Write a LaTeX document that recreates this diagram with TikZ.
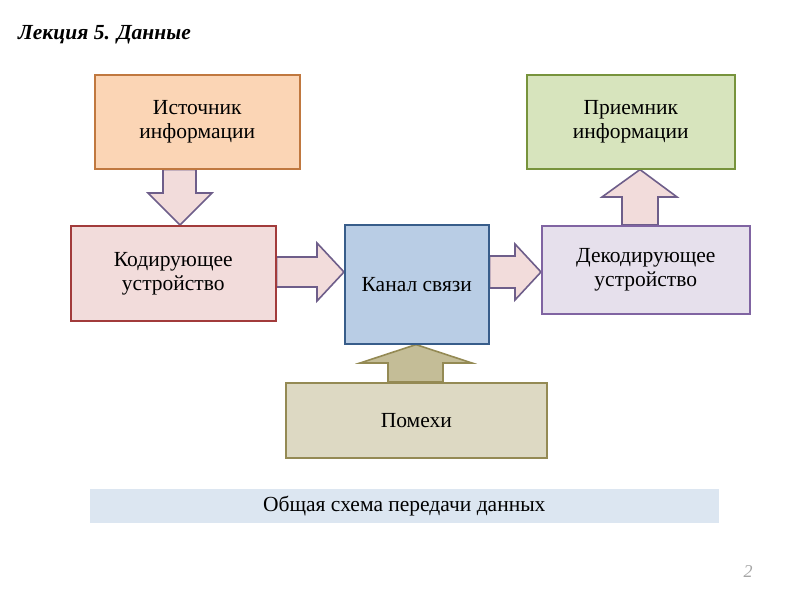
\documentclass[tikz,border=0pt]{standalone}
\usepackage{fontspec}
\setmainfont{Liberation Serif}
\usetikzlibrary{calc}
\pgfdeclarelayer{bg}
\pgfsetlayers{bg,main}
\definecolor{srcfill}{HTML}{FBD5B5}\definecolor{srcline}{HTML}{C0783F}
\definecolor{kodfill}{HTML}{F2DCDB}\definecolor{kodline}{HTML}{A23B3B}
\definecolor{kanfill}{HTML}{B9CDE5}\definecolor{kanline}{HTML}{385D8A}
\definecolor{dekfill}{HTML}{E6E0EC}\definecolor{dekline}{HTML}{8064A2}
\definecolor{prifill}{HTML}{D7E4BD}\definecolor{priline}{HTML}{77933C}
\definecolor{pomfill}{HTML}{DDD9C3}\definecolor{pomline}{HTML}{948A54}
\definecolor{arrfill}{HTML}{F2DCDB}\definecolor{arrline}{HTML}{6E5E8A}
\definecolor{khfill}{HTML}{C4BD97}
\definecolor{capfill}{HTML}{DCE6F1}
\tikzset{
  box/.style={rectangle, line width=1.6pt, anchor=north west, align=center,
    font=\fontsize{21.5}{24}\selectfont, inner sep=0pt},
  blockarrow/.style={line width=1.6pt, line join=miter},
}
\begin{document}
\begin{tikzpicture}[x=1pt,y=-1pt]
\useasboundingbox (0,0) rectangle (800,600);
\node[anchor=west, font=\fontsize{21.5}{24}\selectfont\bfseries\itshape, inner sep=0pt] (title) at (18,35) {Лекция 5. Данные};
\node[box, draw=srcline, fill=srcfill, minimum width=205pt, minimum height=94pt] (src) at (94,74) {Источник\\информации};
\node[box, draw=kodline, fill=kodfill, minimum width=205pt, minimum height=95pt] (kod) at (70,225) {Кодирующее\\устройство};
\node[box, draw=kanline, fill=kanfill, minimum width=144pt, minimum height=119pt] (kan) at (344,224) {Канал связи};
\node[box, draw=dekline, fill=dekfill, minimum width=208pt, minimum height=88pt] (dek) at (541,225) {Декодирующее\\устройство};
\node[box, draw=priline, fill=prifill, minimum width=208pt, minimum height=94pt] (pri) at (526,74) {Приемник\\информации};
\node[box, draw=pomline, fill=pomfill, minimum width=261pt, minimum height=75pt] (pom) at (285,382) {Помехи};
\node[box, fill=capfill, minimum width=629pt, minimum height=34pt] (cap) at (89,488) {Общая схема передачи данных};
\node[font=\fontsize{18}{20}\selectfont\itshape, text=gray!70, inner sep=0pt] (num) at (748,572) {2};
\begin{pgfonlayer}{bg}
\fill[white] (0,0) rectangle (800,600);
% Источник -> Кодирующее
\draw[blockarrow, draw=arrline, fill=arrfill]
  (163,0 |- src.south) -- (196,0 |- src.south) -- (196,193) -- (212,193)
  -- (180,0 |- kod.north) -- (148,193) -- (163,193) -- cycle;
% Кодирующее -> Канал
\draw[blockarrow, draw=arrline, fill=arrfill]
  (kod.east |- 0,257) -- (317,257) -- (317,243) -- (kan.west |- 0,272)
  -- (317,301) -- (317,287) -- (kod.east |- 0,287) -- cycle;
% Канал -> Декодирующее
\draw[blockarrow, draw=arrline, fill=arrfill]
  (kan.east |- 0,256) -- (515,256) -- (515,244) -- (dek.west |- 0,272)
  -- (515,300) -- (515,288) -- (kan.east |- 0,288) -- cycle;
% Декодирующее -> Приемник
\draw[blockarrow, draw=arrline, fill=arrfill]
  (622,0 |- dek.north) -- (622,197) -- (602,197) -- (640,0 |- pri.south)
  -- (677,197) -- (658,197) -- (658,0 |- dek.north) -- cycle;
% Помехи -> Канал
\draw[blockarrow, draw=pomline, fill=khfill]
  (388,0 |- pom.north) -- (388,363) -- (360,363) -- (416,0 |- kan.south)
  -- (472,363) -- (443,363) -- (443,0 |- pom.north) -- cycle;
\end{pgfonlayer}
\end{tikzpicture}
\end{document}
